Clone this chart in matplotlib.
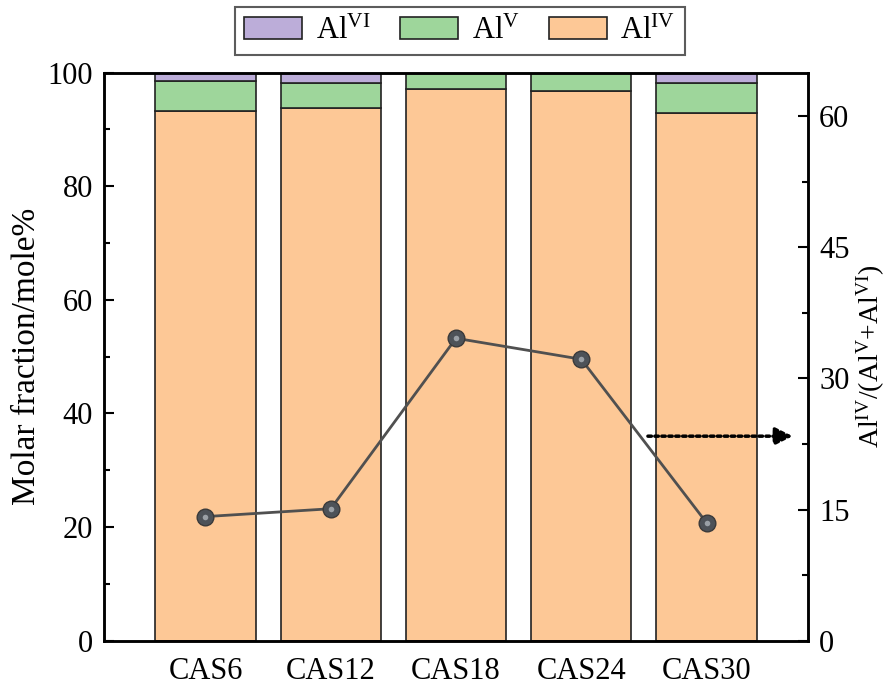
import matplotlib
matplotlib.use("Agg")
import matplotlib.pyplot as plt
from matplotlib.ticker import MultipleLocator
from matplotlib.patches import Patch
import numpy as np

plt.rcParams['font.family'] = ['Liberation Serif', 'DejaVu Serif']
plt.rcParams['mathtext.fontset'] = 'custom'
plt.rcParams['mathtext.rm'] = 'Liberation Serif'
plt.rcParams['mathtext.it'] = 'Liberation Serif:italic'

samples = ["CAS6", "CAS12", "CAS18", "CAS24", "CAS30"]
al_iv = [93.3, 93.7, 97.1, 96.7, 92.9]
al_v = [5.2, 4.5, 2.9, 3.3, 5.3]
al_vi = [1.5, 1.8, 0.0, 0.0, 1.8]
ratio = [14.2, 15.1, 34.6, 32.2, 13.5]

c_iv = '#FDC896'
c_v = '#9ED69B'
c_vi = '#BCADD9'

fig = plt.figure(figsize=(8.93, 6.90), dpi=100)
ax = fig.add_axes([0.1165, 0.0714, 0.7883, 0.8235])
x = np.arange(len(samples))
w = 0.8
iv = np.array(al_iv); v = np.array(al_v); vi = np.array(al_vi)
ax.bar(x, iv, w, color=c_iv, edgecolor='#222222', linewidth=1.2, zorder=2)
ax.bar(x, v, w, bottom=iv, color=c_v, edgecolor='#222222', linewidth=1.2, zorder=2)
ax.bar(x, vi, w, bottom=iv + v, color=c_vi, edgecolor='#222222', linewidth=1.2, zorder=2)

ax.set_xlim(-0.81, 4.81)
ax.set_ylim(0, 100)
ax.set_xticks(x)
ax.set_xticklabels(samples)
ax.yaxis.set_major_locator(MultipleLocator(20))
ax.yaxis.set_minor_locator(MultipleLocator(10))
ax.tick_params(axis='x', length=0, labelsize=22, pad=12)
ax.tick_params(axis='y', which='major', direction='in', length=7, width=1.5, labelsize=22, pad=8)
ax.tick_params(axis='y', which='minor', direction='in', length=4, width=1.5)
ax.set_ylabel('Molar fraction/mole%', fontsize=24, labelpad=4)
for s in ax.spines.values():
    s.set_linewidth(1.8)

ax2 = ax.twinx()
ax2.set_ylim(0, 65)
ax2.yaxis.set_major_locator(MultipleLocator(15))
ax2.yaxis.set_minor_locator(MultipleLocator(7.5))
ax2.tick_params(axis='y', which='major', direction='in', length=7, width=1.5, labelsize=22, pad=8)
ax2.tick_params(axis='y', which='minor', direction='in', length=4, width=1.5)
ax2.plot(x, ratio, color='#505050', linewidth=2, zorder=3)
ax2.plot(x, ratio, linestyle='none', marker='o', markersize=12,
         markerfacecolor='#4d5258', markeredgecolor='#3a3a3a', markeredgewidth=1, zorder=4)
ax2.plot(x, ratio, linestyle='none', marker='o', markersize=4,
         markerfacecolor='#9aa0a6', markeredgecolor='none', zorder=5)
ax2.set_ylabel(r'Al$^{\rm IV}$/(Al$^{\rm V}$+Al$^{\rm VI}$)', fontsize=20, labelpad=4)
for s in ax2.spines.values():
    s.set_linewidth(1.8)

ax2.annotate('', xy=(4.71, 23.4), xytext=(3.51, 23.4),
             arrowprops=dict(arrowstyle='-|>', linestyle=(0, (1, 1.0)), color='black',
                             linewidth=2.5, mutation_scale=26))

handles = [Patch(facecolor=c_vi, edgecolor='#222222', linewidth=1.2, label=r'Al$^{\rm VI}$'),
           Patch(facecolor=c_v, edgecolor='#222222', linewidth=1.2, label=r'Al$^{\rm V}$'),
           Patch(facecolor=c_iv, edgecolor='#222222', linewidth=1.2, label=r'Al$^{\rm IV}$')]
leg = fig.legend(handles=handles, loc='center', bbox_to_anchor=(0.515, 0.955), ncol=3,
                 fontsize=22, frameon=True, fancybox=False, edgecolor='#333333',
                 handlelength=1.9, handleheight=0.75, columnspacing=0.95, handletextpad=0.45,
                 borderpad=0.3)
leg.get_frame().set_linewidth(1.5)

fig.savefig('out.png', dpi=100)
